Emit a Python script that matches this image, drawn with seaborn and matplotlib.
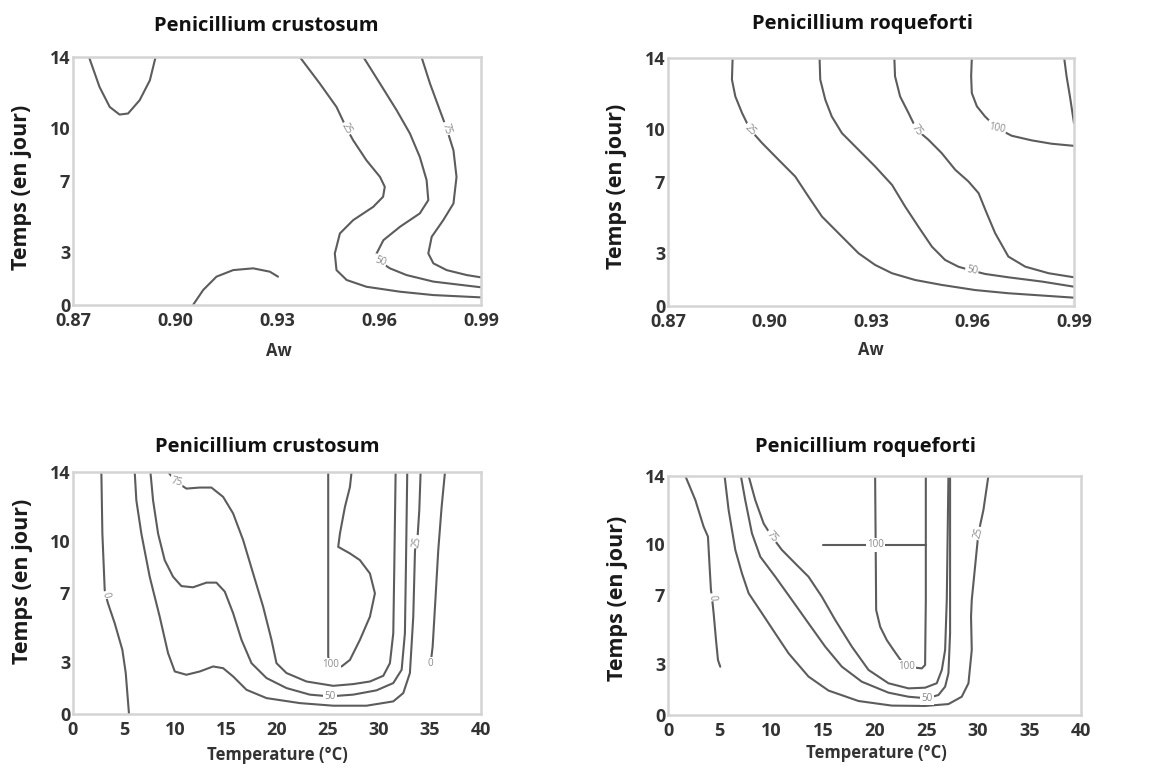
import matplotlib
matplotlib.use("Agg")
import matplotlib.pyplot as plt
import pandas as pd
import seaborn as sns

sns.set_theme(style="white")
plt.rcParams["font.family"] = ["Open Sans", "DejaVu Sans"]

# ---------------- data ----------------
aw_ticks = [0.87, 0.90, 0.93, 0.96, 0.99]
aw_ticklabels = ["0.87", "0.90", "0.93", "0.96", "0.99"]
temp_ticks = [0, 5, 10, 15, 20, 25, 30, 35, 40]
time_ticks = [0, 3, 7, 10, 14]

titles = ["Penicillium crustosum", "Penicillium roqueforti",
          "Penicillium crustosum", "Penicillium roqueforti"]
xlabels = ["Aw", "Aw", "Temperature (°C)", "Temperature (°C)"]
ylabel = "Temps (en jour)"

# Panel 1 : P. crustosum vs Aw
c_aw_top_x = [0.8747, 0.8778, 0.8808, 0.8837, 0.8862, 0.8896, 0.8926, 0.8943]
c_aw_top_y = [14, 12.31, 11.18, 10.75, 10.81, 11.56, 12.68, 14]
c_aw_arc_x = [0.9053, 0.9083, 0.9122, 0.9171, 0.9230, 0.9279, 0.9303]
c_aw_arc_y = [0, 0.85, 1.60, 1.97, 2.07, 1.88, 1.60]
c_aw_25_x = [0.9367, 0.9426, 0.9475, 0.9505, 0.9524, 0.9563, 0.9603, 0.9617, 0.9612, 0.9583,
             0.9524, 0.9485, 0.9470, 0.9475, 0.9505, 0.9563, 0.9662, 0.9760, 0.99]
c_aw_25_y = [14, 12.50, 11.18, 9.96, 9.30, 8.17, 7.23, 6.67, 6.11, 5.54,
             4.79, 4.04, 2.91, 1.97, 1.41, 1.03, 0.75, 0.56, 0.43]
c_aw_50_x = [0.9554, 0.9603, 0.9652, 0.9691, 0.9720, 0.9740, 0.9745, 0.9720, 0.9662, 0.9613,
             0.9593, 0.9603, 0.9632, 0.9681, 0.9760, 0.99]
c_aw_50_y = [14, 12.50, 10.99, 9.68, 8.36, 7.05, 5.92, 5.17, 4.42, 3.66,
             2.91, 2.44, 2.07, 1.69, 1.32, 1.00]
c_aw_75_x = [0.9725, 0.9750, 0.9779, 0.9799, 0.9819, 0.9828, 0.9819, 0.9789, 0.9755, 0.9745,
             0.9760, 0.9799, 0.9858, 0.99]
c_aw_75_y = [14, 12.50, 10.99, 9.96, 8.73, 7.23, 5.73, 4.79, 3.85, 2.91,
             2.35, 1.97, 1.69, 1.56]
c_aw_labels = [("25", 0.9505, 9.96, -60), ("50", 0.9603, 2.44, -20), ("75", 0.9799, 9.96, -75)]

# Panel 2 : P. roqueforti vs Aw
r_aw_25_x = [0.8891, 0.8889, 0.8899, 0.8919, 0.8943, 0.8978, 0.9027, 0.9076, 0.9115, 0.9155,
             0.9204, 0.9263, 0.9312, 0.9362, 0.9430, 0.9509, 0.9608, 0.9706, 0.99]
r_aw_25_y = [14, 12.78, 11.83, 10.89, 9.95, 9.20, 8.25, 7.31, 6.18, 5.05,
             4.11, 2.98, 2.32, 1.85, 1.47, 1.19, 0.90, 0.72, 0.47]
r_aw_50_x = [0.9148, 0.9150, 0.9165, 0.9184, 0.9214, 0.9263, 0.9312, 0.9362, 0.9401, 0.9440,
             0.9480, 0.9519, 0.9558, 0.9598, 0.9637, 0.9706, 0.9805, 0.99]
r_aw_50_y = [14, 12.78, 11.64, 10.70, 9.76, 8.82, 7.88, 6.84, 5.61, 4.48,
             3.35, 2.60, 2.22, 2.00, 1.81, 1.62, 1.38, 1.09]
r_aw_75_x = [0.9369, 0.9371, 0.9386, 0.9411, 0.9435, 0.9470, 0.9509, 0.9549, 0.9588, 0.9618,
             0.9642, 0.9667, 0.9706, 0.9756, 0.9825, 0.99]
r_aw_75_y = [14, 12.97, 11.83, 10.89, 9.95, 9.38, 8.63, 7.69, 7.03, 6.37,
             5.24, 4.11, 2.79, 2.22, 1.85, 1.62]
r_aw_100_x = [0.9598, 0.9596, 0.9598, 0.9613, 0.9637, 0.9672, 0.9716, 0.9775, 0.9834, 0.99]
r_aw_100_y = [14, 12.97, 12.02, 11.27, 10.70, 10.04, 9.61, 9.35, 9.16, 9.04]
r_aw_edge_x = [0.9871, 0.9878, 0.9888, 0.99]
r_aw_edge_y = [14, 12.97, 11.83, 10.32]
r_aw_labels = [("25", 0.8943, 9.95, -45), ("50", 0.9598, 2.00, -10),
               ("75", 0.9435, 9.95, -55), ("100", 0.9672, 10.04, -12)]

# Panel 3 : P. crustosum vs temperature
c_t_0a_x = [2.78, 2.88, 3.11, 3.21, 3.43, 4.09, 4.84, 5.17, 5.49]
c_t_0a_y = [14, 10.44, 7.17, 6.88, 6.40, 5.25, 3.71, 2.37, 0]
c_t_25_x = [6.05, 6.21, 6.70, 7.52, 8.50, 9.32, 9.98, 11.12, 12.43, 13.74, 14.72, 15.70, 17.01,
            18.97, 22.24, 25.51, 28.78, 31.40, 32.38, 33.03, 33.36, 33.53, 33.75, 33.95, 34.08]
c_t_25_y = [14, 12.36, 10.44, 7.94, 5.63, 3.52, 2.46, 2.27, 2.46, 2.75, 2.65, 2.17, 1.40,
            0.92, 0.63, 0.48, 0.48, 0.73, 1.21, 2.37, 5.63, 9.48, 9.96, 11.79, 14]
c_t_50_x = [7.59, 7.85, 8.34, 8.99, 9.81, 10.63, 11.77, 13.08, 14.06, 14.88, 15.70, 16.52,
            17.50, 18.97, 20.93, 23.22, 25.18, 27.47, 29.76, 31.40, 32.22, 32.54, 32.64, 32.77]
c_t_50_y = [14, 12.36, 10.44, 8.90, 7.94, 7.40, 7.33, 7.60, 7.60, 7.08, 5.83, 4.29,
            2.94, 2.08, 1.50, 1.12, 1.02, 1.12, 1.37, 1.79, 2.56, 4.67, 8.52, 14]
c_t_75_x = [9.32, 10.14, 11.12, 12.43, 13.57, 14.72, 15.70, 16.68, 17.66, 18.64, 19.46,
            19.95, 20.93, 22.89, 25.51, 27.47, 29.11, 30.42, 31.07, 31.40, 31.50, 31.63]
c_t_75_y = [14, 13.42, 13.04, 13.10, 13.10, 12.56, 11.60, 10.06, 8.13, 6.21, 4.29,
            2.94, 2.37, 1.88, 1.63, 1.73, 1.88, 2.21, 2.94, 4.67, 8.52, 14]
c_t_100_x = [25.02, 25.02, 25.18, 26.33, 27.15, 28.13, 29.11, 29.60, 29.11, 28.13, 27.15,
             26.00, 26.17, 26.66, 27.15, 27.31]
c_t_100_y = [14, 3.33, 2.85, 2.75, 3.13, 4.29, 5.63, 6.98, 8.13, 8.90, 9.29,
             9.67, 10.44, 11.98, 13.13, 14]
c_t_0b_x = [35.06, 35.26, 35.49, 35.81, 36.14, 36.47]
c_t_0b_y = [2.90, 3.90, 6.21, 9.48, 11.98, 14]
c_t_labels = [("0", 3.21, 6.88, -75), ("75", 10.14, 13.42, -15), ("100", 25.3, 2.85, 0),
              ("50", 25.18, 1.02, 0), ("25", 33.75, 9.96, 80), ("0", 35.06, 2.90, 0)]

# Panel 4 : P. roqueforti vs temperature
r_t_0_x = [1.68, 2.65, 3.45, 3.87, 4.03, 4.16, 4.26, 4.42, 4.65, 4.84, 5.06]
r_t_0_y = [14, 12.59, 11.03, 10.45, 8.69, 7.32, 6.89, 5.96, 4.39, 3.22, 2.83]
r_t_25_x = [5.48, 5.87, 6.52, 7.16, 7.81, 9.10, 10.39, 11.68, 13.61, 15.55, 18.45, 21.68,
            24.90, 27.16, 28.45, 29.10, 29.42, 29.35, 29.42, 29.74, 30.06, 30.55, 31.03]
r_t_25_y = [14, 12.01, 9.67, 8.30, 7.13, 5.96, 4.78, 3.61, 2.25, 1.43, 0.82, 0.55,
            0.53, 0.64, 1.07, 1.86, 3.81, 5.76, 6.74, 8.69, 10.64, 12.01, 14]
r_t_50_x = [7.06, 7.48, 8.13, 8.94, 10.39, 12.00, 13.61, 15.23, 16.84, 18.77, 21.35, 23.29,
            25.06, 26.19, 26.84, 27.16, 27.32, 27.32, 27.32]
r_t_50_y = [14, 12.59, 10.64, 9.27, 8.10, 6.74, 5.37, 4.00, 2.83, 1.95, 1.31, 1.07,
            0.98, 1.17, 1.66, 2.44, 4.78, 8.69, 14]
r_t_75_x = [7.81, 8.45, 9.26, 10.06, 11.03, 12.32, 13.61, 14.90, 16.19, 17.81, 19.42, 21.35,
            23.29, 24.90, 26.03, 26.52, 26.84, 27.00, 27.16]
r_t_75_y = [14, 12.59, 11.22, 10.45, 9.67, 8.88, 8.10, 6.93, 5.57, 4.00, 2.64, 1.86,
            1.56, 1.60, 1.86, 2.64, 3.81, 6.74, 14]
r_t_100a_x = [20.06, 20.13, 20.16, 20.55, 21.19, 21.84, 22.48, 23.13, 24.58, 24.90, 24.97, 24.97]
r_t_100a_y = [14, 8.69, 6.15, 5.17, 4.39, 3.81, 3.26, 2.83, 2.73, 2.93, 6.74, 14]
r_t_100b_x = [15.06, 24.97]
r_t_100b_y = [9.96, 9.96]
r_t_labels = [("0", 4.26, 6.89, -85), ("75", 10.06, 10.45, -50), ("100", 20.06, 9.96, 0),
              ("100", 23.13, 2.83, 0), ("50", 25.06, 0.98, 0), ("25", 30.06, 10.64, 75)]

panel_lines = [
    [c_aw_top_x, c_aw_top_y, c_aw_arc_x, c_aw_arc_y, c_aw_25_x, c_aw_25_y,
     c_aw_50_x, c_aw_50_y, c_aw_75_x, c_aw_75_y],
    [r_aw_25_x, r_aw_25_y, r_aw_50_x, r_aw_50_y, r_aw_75_x, r_aw_75_y,
     r_aw_100_x, r_aw_100_y, r_aw_edge_x, r_aw_edge_y],
    [c_t_0a_x, c_t_0a_y, c_t_25_x, c_t_25_y, c_t_50_x, c_t_50_y, c_t_75_x, c_t_75_y,
     c_t_100_x, c_t_100_y, c_t_0b_x, c_t_0b_y],
    [r_t_0_x, r_t_0_y, r_t_25_x, r_t_25_y, r_t_50_x, r_t_50_y, r_t_75_x, r_t_75_y,
     r_t_100a_x, r_t_100a_y, r_t_100b_x, r_t_100b_y],
]
panel_labels = [c_aw_labels, r_aw_labels, c_t_labels, r_t_labels]

# ---------------- layout ----------------
W, H = 1149, 769
boxes = [(73, 57, 481, 305), (668, 58, 1074, 306), (73, 472, 481, 714), (668, 476, 1081, 715)]
title_pos = [(0.473, 1.105), (0.478, 1.117), (0.477, 1.084), (0.479, 1.10)]
ylabel_pos = [(-0.100, 0.474), (-0.101, 0.484), (-0.098, 0.547), (-0.097, 0.49)]
xlabel_pos = [(0.505, -0.150), (0.50, -0.142), (0.501, -0.133), (0.505, -0.123)]

line_color = "#5c5c5c"
fig = plt.figure(figsize=(W / 100, H / 100), dpi=100)
fig.patch.set_facecolor("white")

for i in range(4):
    l, t, r, b = boxes[i]
    ax = fig.add_axes([l / W, 1 - b / H, (r - l) / W, (b - t) / H])
    lines = panel_lines[i]
    frames = []
    for k in range(0, len(lines), 2):
        frames.append(pd.DataFrame({"x": lines[k], "y": lines[k + 1], "line": k // 2}))
    df = pd.concat(frames, ignore_index=True)
    sns.lineplot(data=df, x="x", y="y", units="line", estimator=None, sort=False,
                 color=line_color, linewidth=1.5, ax=ax, legend=False)
    for txt, lx, ly, rot in panel_labels[i]:
        ax.text(lx, ly, txt, fontsize=7, color="#8a8a8a", ha="center", va="center",
                rotation=rot, zorder=5,
                bbox=dict(boxstyle="square,pad=0.12", fc="white", ec="none"))
    if i < 2:
        ax.set_xlim(0.87, 0.99)
        ax.set_xticks(aw_ticks)
        ax.set_xticklabels(aw_ticklabels)
    else:
        ax.set_xlim(0, 40)
        ax.set_xticks(temp_ticks)
        ax.set_xticklabels([str(v) for v in temp_ticks])
    ax.set_ylim(0, 14)
    ax.set_yticks(time_ticks)
    ax.set_yticklabels([str(v) for v in time_ticks])
    ax.tick_params(axis="both", length=0, labelsize=13, labelcolor="#333333")
    ax.tick_params(axis="x", pad=5)
    ax.tick_params(axis="y", pad=2)
    for lab in ax.get_xticklabels() + ax.get_yticklabels():
        lab.set_fontweight("bold")
    for sp in ax.spines.values():
        sp.set_color("#d4d4d4")
        sp.set_linewidth(1.8)
    ax.set_xlabel(xlabels[i], fontsize=12, fontweight="bold", color="#333333")
    ax.xaxis.set_label_coords(*xlabel_pos[i])
    ax.set_ylabel(ylabel, fontsize=15.5, fontweight="bold", color="#1a1a1a")
    ax.yaxis.set_label_coords(*ylabel_pos[i])
    ax.text(title_pos[i][0], title_pos[i][1], titles[i], transform=ax.transAxes,
            ha="center", va="baseline", fontsize=14.5, fontweight="bold", color="#111111")

fig.savefig("out.png", dpi=100, facecolor="white")
